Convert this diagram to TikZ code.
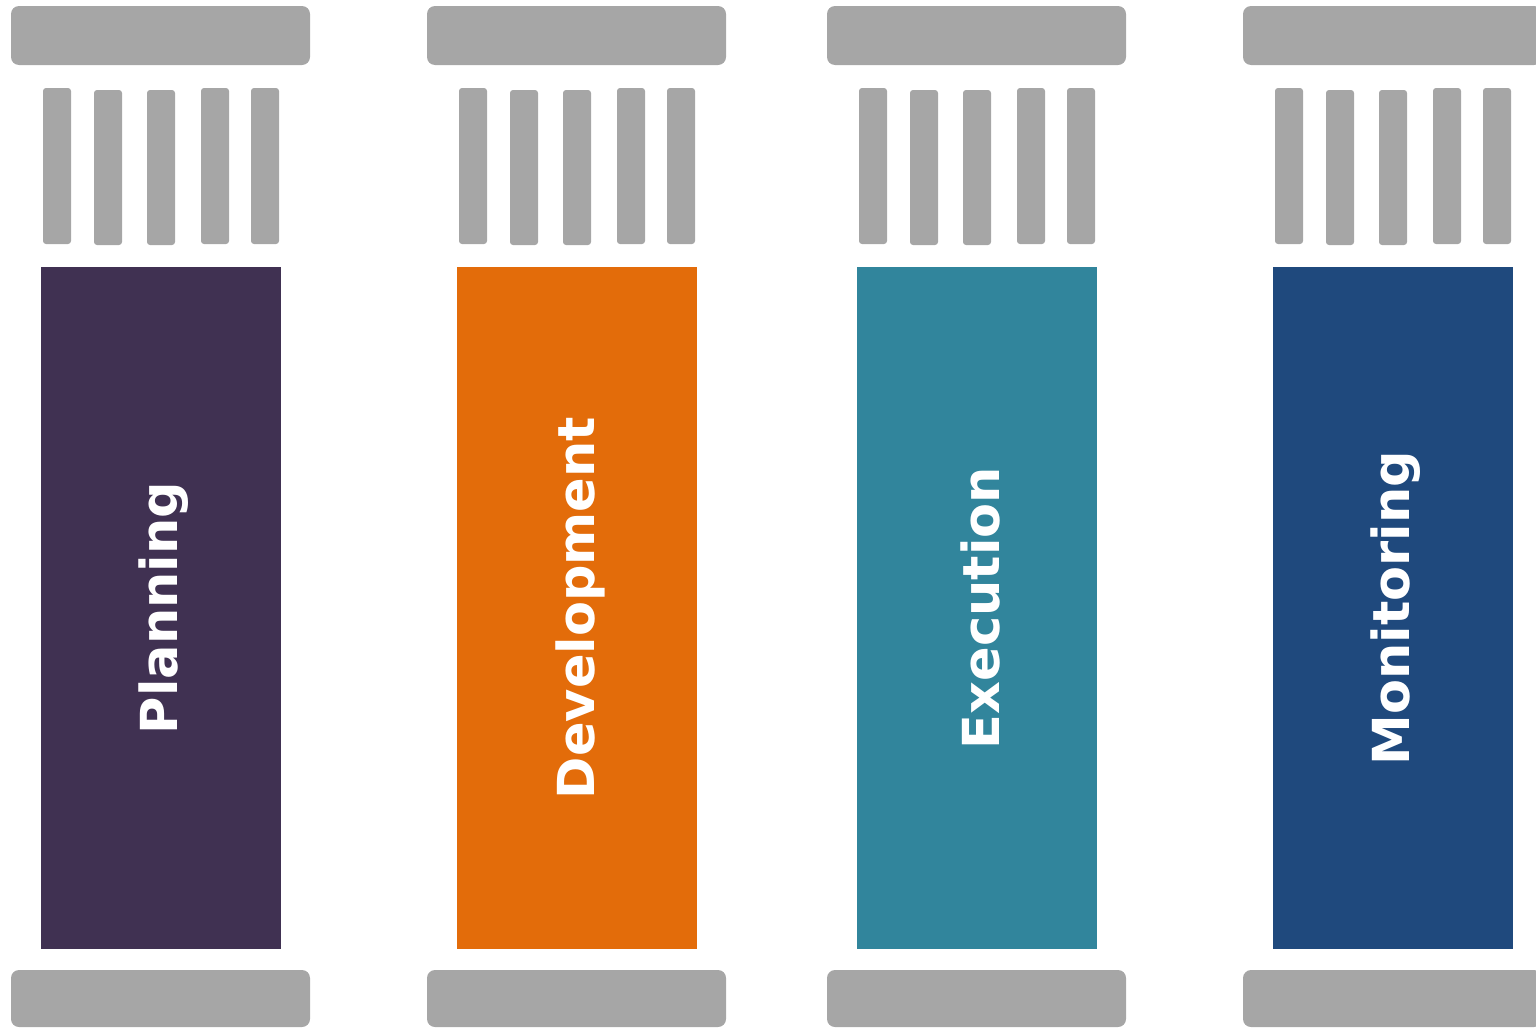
\documentclass[tikz,border=0pt]{standalone}
\usepackage{fontspec}
\setsansfont{DejaVu Sans}
\usetikzlibrary{positioning}
\definecolor{pillargray}{HTML}{A6A6A6}
\definecolor{planpurple}{HTML}{403152}
\definecolor{devorange}{HTML}{E36C0A}
\definecolor{exeteal}{HTML}{31859C}
\definecolor{monblue}{HTML}{1F497D}
\tikzset{
  slab/.style={fill=pillargray, rounded corners=8pt, inner sep=0pt, minimum width=299pt},
  flute/.style={fill=pillargray, rounded corners=3pt},
  shaft/.style={inner sep=0pt, minimum width=240pt, minimum height=682pt},
  shaftlabel/.style={text=white, rotate=90, inner sep=0pt, font=\sffamily\bfseries\fontsize{51}{51}\selectfont}
}

\begin{document}
\begin{tikzpicture}[x=1pt, y=-1pt]
	\useasboundingbox (0,0) rectangle (1536,1028);
	\foreach \name/\x/\col/\label in {plan/11/planpurple/Planning, dev/427/devorange/Development, exe/827/exeteal/Execution, mon/1243/monblue/Monitoring}{
		% capital and flutes
		\node[slab, minimum height=59pt] (\name-cap) at (\x+149.5, 35.5) {};
		\foreach \fx/\ft/\fb in {32/88/244, 83/90/245, 136/90/245, 190/88/244, 240/88/244}
			\fill[flute] (\x+\fx, \ft) rectangle (\x+\fx+28, \fb);
		% shaft
		\node[shaft, fill=\col] (\name-shaft) at (\x+150, 608) {};
		\node[shaftlabel] (\name-label) at ([xshift=3pt]\name-shaft.center) {\label};
		% base
		\node[slab, minimum height=57pt] (\name-base) at (\x+149.5, 998.5) {};
	}
\end{tikzpicture}
\end{document}
